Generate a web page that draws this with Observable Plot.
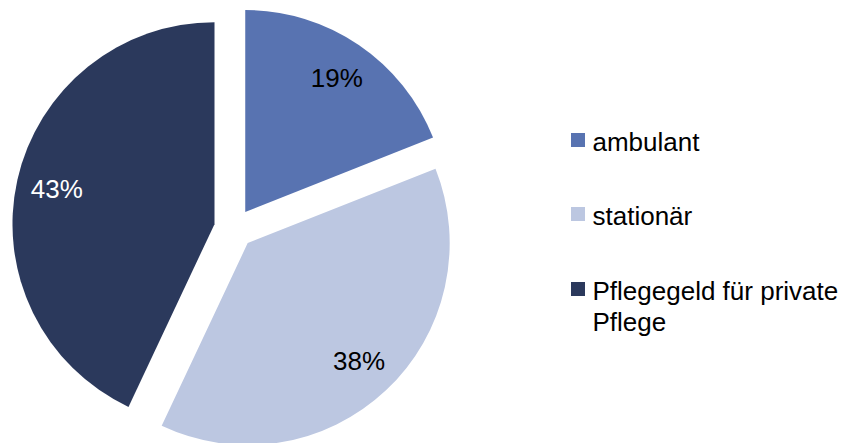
<!DOCTYPE html>
<html>
<head>
<meta charset="utf-8">
<script src="https://cdn.jsdelivr.net/npm/d3@7"></script>
<script src="https://cdn.jsdelivr.net/npm/@observablehq/plot@0.6"></script>
<style>
  html, body { margin: 0; padding: 0; background: #fff; }
  #chart svg { display: block; }
</style>
</head>
<body>
<div id="chart"></div>
<script>
// Data
const categories = ["ambulant", "stationär", "Pflegegeld für private Pflege"];
const legendLabels = ["ambulant", "stationär", "Pflegegeld für private\nPflege"];
const values = [19, 38, 43];
const colors = ["#5873b1", "#bcc7e1", "#2b395c"];
const labelColors = ["#000000", "#000000", "#ffffff"];

const W = 848, H = 443;
const cx = 234, cy = 228.5, R = 202, explode = 20, labelR = 162;
const fs = 26;
const font = "'Liberation Sans', Arial, Helvetica, sans-serif";

const total = d3.sum(values);
const arcs = d3.pie().sort(null).value(d => d)(values);
const slices = arcs.map((a, i) => {
  const mid = (a.startAngle + a.endAngle) / 2;
  const ox = cx + explode * Math.sin(mid);
  const oy = cy - explode * Math.cos(mid);
  return {
    category: categories[i],
    value: values[i],
    startAngle: a.startAngle,
    endAngle: a.endAngle,
    ox, oy,
    lx: ox + labelR * Math.sin(mid),
    ly: oy - labelR * Math.cos(mid),
    label: Math.round(values[i] / total * 100) + "%",
    color: colors[i],
    labelColor: labelColors[i]
  };
});

// Custom pie-slice mark positioned through Plot's scales
function pieMark(data) {
  return (index, scales) => {
    const g = d3.create("svg:g");
    const arc = d3.arc();
    for (const s of data) {
      const px = scales.x(s.ox), py = scales.y(s.oy);
      const rr = Math.abs(scales.x(R) - scales.x(0));
      g.append("path")
        .attr("transform", `translate(${px},${py})`)
        .attr("d", arc({innerRadius: 0, outerRadius: rr, startAngle: s.startAngle, endAngle: s.endAngle}))
        .attr("fill", s.color);
    }
    return g.node();
  };
}

const legendX = 571, legendTop = [133, 207, 282], sq = 14;
const legend = categories.map((c, i) => ({
  category: c,
  text: legendLabels[i],
  x1: legendX, x2: legendX + sq,
  y1: legendTop[i], y2: legendTop[i] + sq,
  tx: legendX + 21,
  ty: legendTop[i] - 4.5,
  color: colors[i]
}));

const plot = Plot.plot({
  width: W,
  height: H,
  margin: 0,
  x: {domain: [0, W], range: [0, W], axis: null},
  y: {domain: [0, H], range: [0, H], axis: null},
  style: {fontFamily: font, background: "#fff"},
  marks: [
    pieMark(slices),
    Plot.text(slices, {
      x: "lx", y: "ly", text: "label",
      fill: d => d.labelColor,
      fontSize: fs, fontFamily: font,
      textAnchor: "middle", lineAnchor: "middle"
    }),
    Plot.rect(legend, {x1: "x1", x2: "x2", y1: "y1", y2: "y2", fill: d => d.color, inset: 0}),
    Plot.text(legend, {
      x: "tx", y: "ty", text: "text",
      fill: "#000", fontSize: fs, fontFamily: font,
      textAnchor: "start", lineAnchor: "top", lineHeight: 31 / fs
    })
  ]
});
document.getElementById("chart").appendChild(plot);
</script>
</body>
</html>
